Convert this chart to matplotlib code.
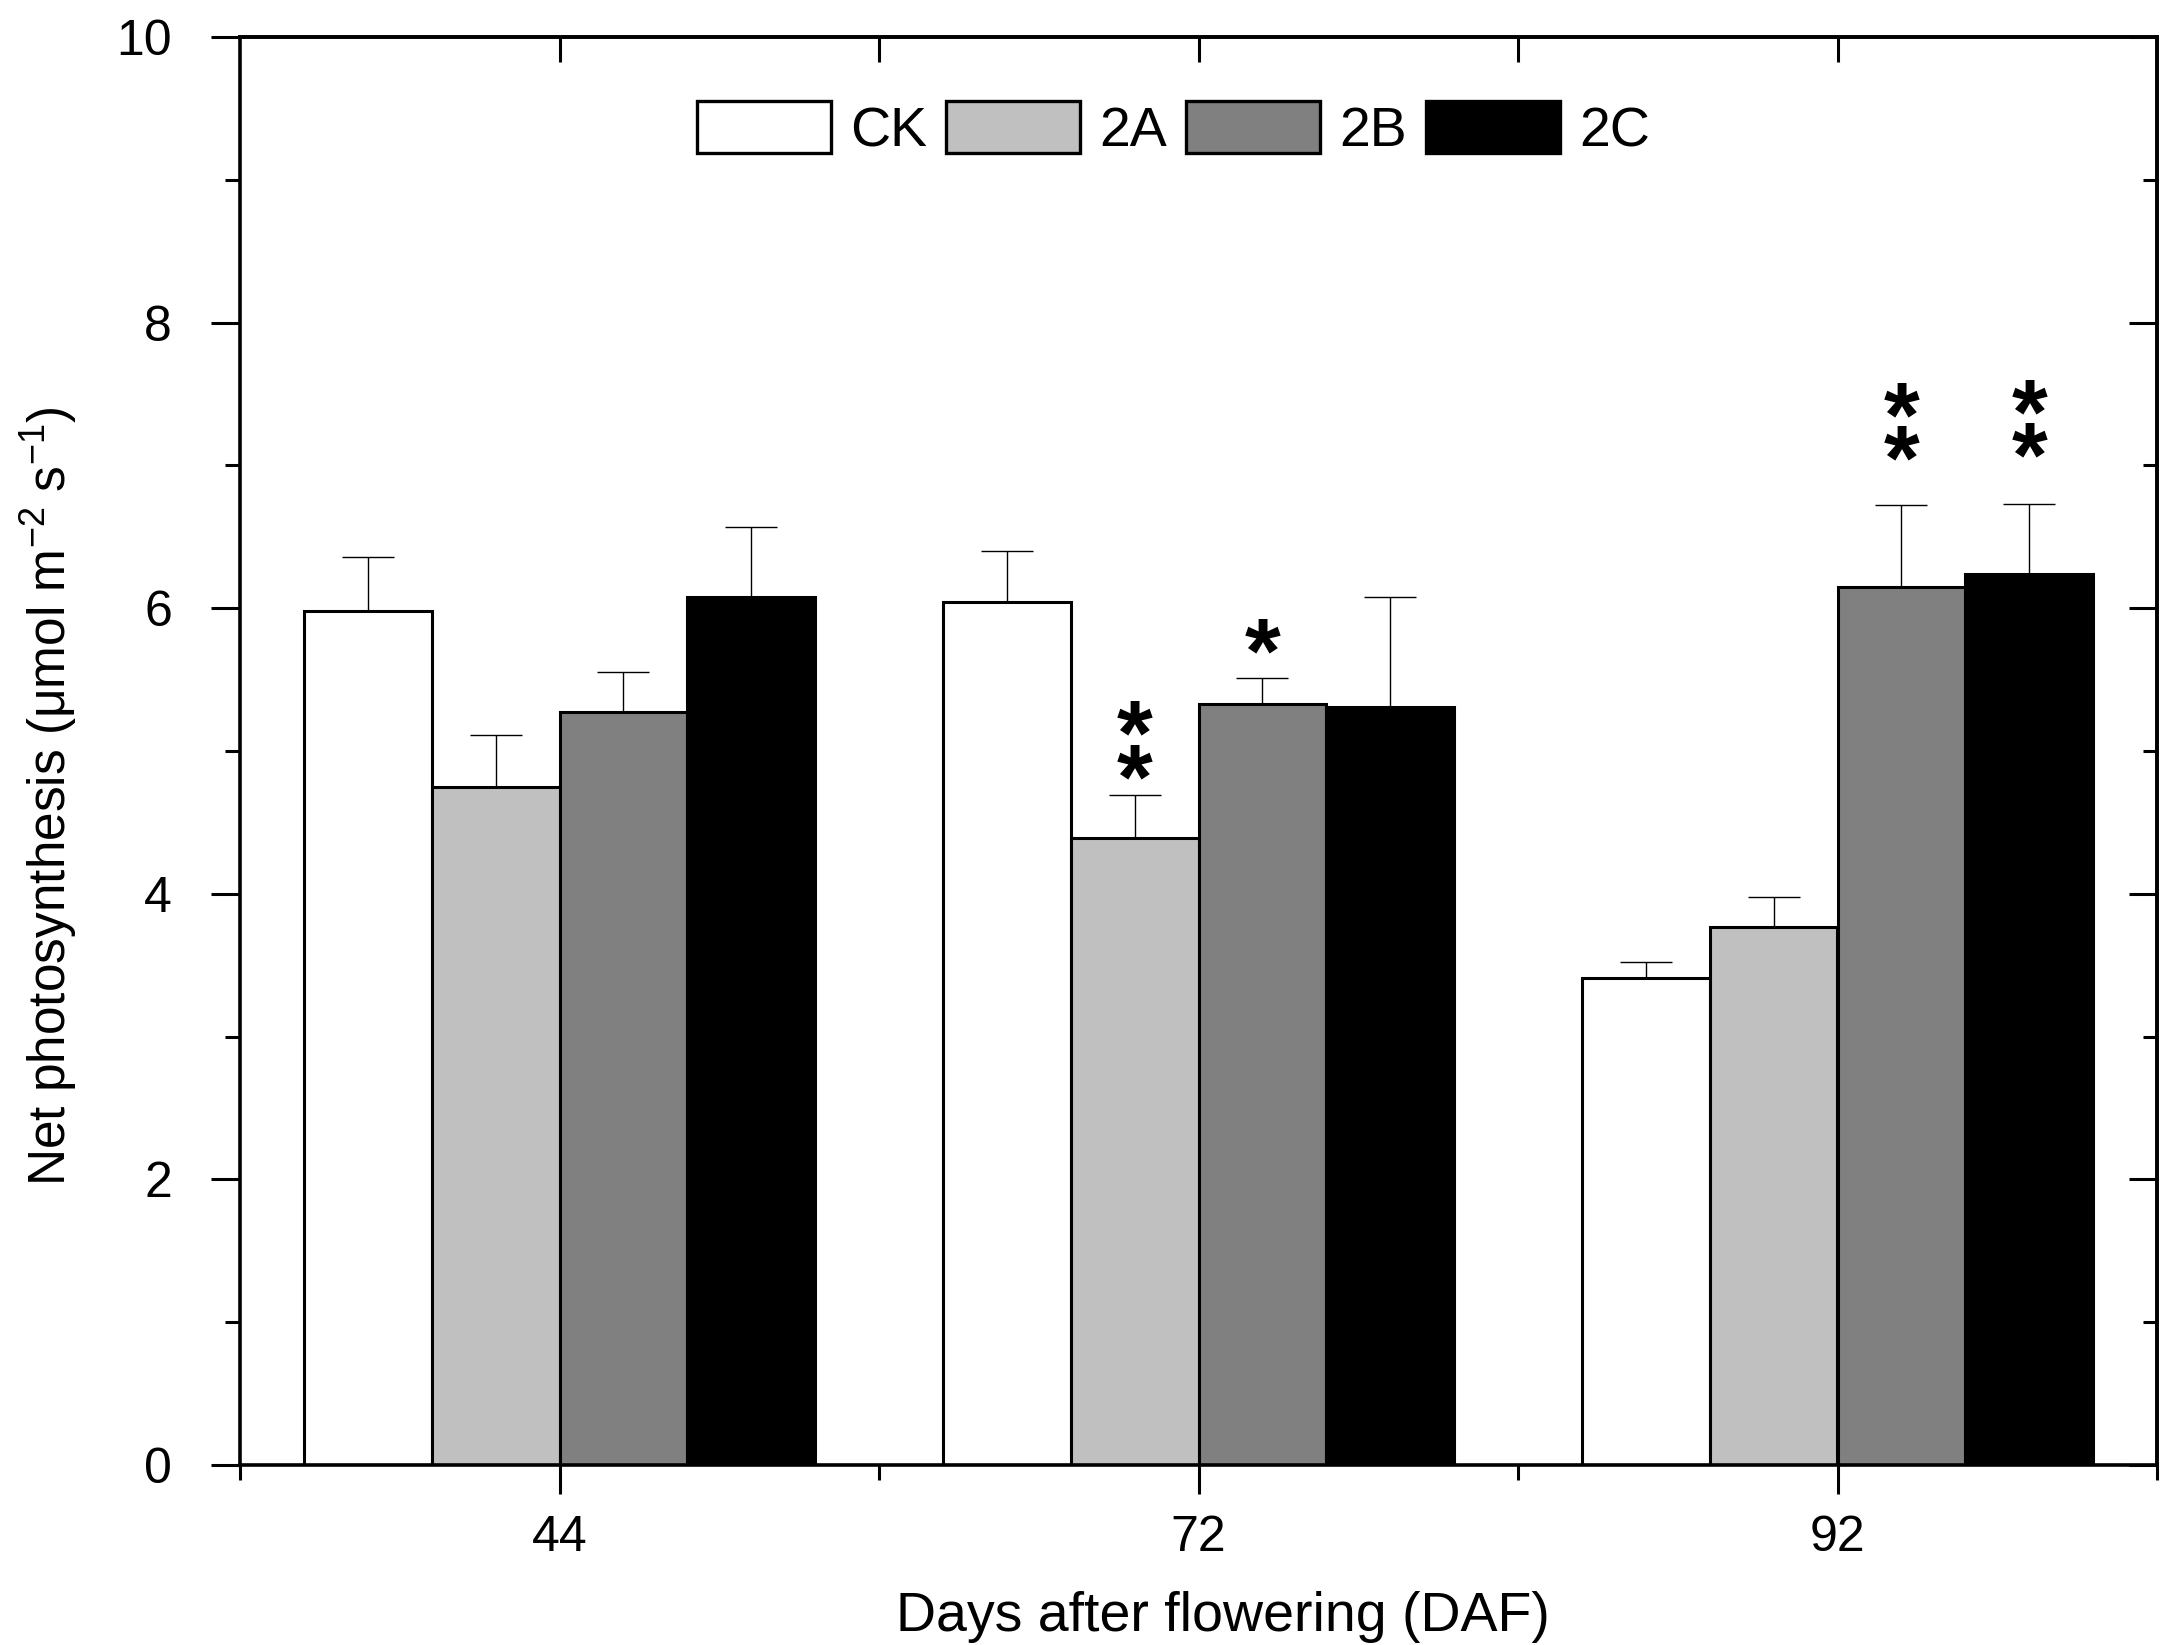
import matplotlib
matplotlib.use("Agg")
import matplotlib.pyplot as plt
import numpy as np

plt.rcParams["font.family"] = ["Liberation Sans", "DejaVu Sans"]
plt.rcParams["mathtext.fontset"] = "custom"
plt.rcParams["mathtext.rm"] = "Liberation Sans"
plt.rcParams["mathtext.it"] = "Liberation Sans:italic"
plt.rcParams["mathtext.bf"] = "Liberation Sans:bold"

DAYS = ["44", "72", "92"]
SERIES = ["CK", "2A", "2B", "2C"]
COLORS = ["white", "#c0c0c0", "#808080", "black"]

CK_MEAN = [5.98, 6.04, 3.41]
A_MEAN = [4.75, 4.39, 3.77]
B_MEAN = [5.27, 5.33, 6.15]
C_MEAN = [6.08, 5.31, 6.24]

CK_ERR = [0.38, 0.36, 0.11]
A_ERR = [0.36, 0.30, 0.21]
B_ERR = [0.28, 0.18, 0.57]
C_ERR = [0.49, 0.77, 0.49]

# significance marks: day index, series index, label, centre height
STAR_DAY = [1, 1, 2, 2]
STAR_SER = [1, 2, 2, 3]
STAR_TXT = ["*\n*", "*", "*\n*", "*\n*"]
STAR_Y = [5.10, 5.83, 7.33, 7.35]


def main():
    means = [CK_MEAN, A_MEAN, B_MEAN, C_MEAN]
    errs = [CK_ERR, A_ERR, B_ERR, C_ERR]

    fig = plt.figure(figsize=(21.71, 16.45), dpi=100)
    ax = fig.add_axes([240 / 2171, 1 - 1465 / 1645,
                       1917 / 2171, 1428 / 1645])

    x = np.arange(len(DAYS))
    w = 0.2
    offs = (np.arange(len(SERIES)) - 1.5) * w
    for i, name in enumerate(SERIES):
        ax.bar(x + offs[i], means[i], w, color=COLORS[i], edgecolor="black",
               linewidth=2.2, label=name, zorder=2)
        ax.errorbar(x + offs[i], means[i],
                    yerr=[np.zeros(len(DAYS)), errs[i]], fmt="none",
                    ecolor="black", elinewidth=1.0, capsize=19,
                    capthick=1.0, zorder=1)

    for d, s, t, yy in zip(STAR_DAY, STAR_SER, STAR_TXT, STAR_Y):
        ax.text(x[d] + offs[s], yy - 0.18, t, ha="center", va="center",
                fontsize=66, fontweight="bold", linespacing=0.36)

    ax.set_xlim(-0.5, 2.5)
    ax.set_ylim(0, 10)
    ax.set_xticks(x)
    ax.set_xticklabels(DAYS)
    ax.set_xticks([-0.5, 0.5, 1.5, 2.5], minor=True)
    ax.set_yticks(np.arange(0, 11, 2))
    ax.set_yticks(np.arange(1, 10, 2), minor=True)

    for sp in ax.spines.values():
        sp.set_linewidth(2.6)
    ax.tick_params(which="major", length=21, width=2.2, labelsize=36)
    ax.tick_params(which="minor", length=11, width=2.2)
    ax.tick_params(axis="y", which="major", pad=28)
    ax.tick_params(axis="x", which="major", pad=15)

    top = ax.secondary_xaxis("top")
    top.set_xticks(x)
    top.set_xticks([0.5, 1.5], minor=True)
    top.tick_params(which="both", direction="in", length=18, width=2.2,
                    labeltop=False)
    top.spines["top"].set_linewidth(2.6)
    right = ax.secondary_yaxis("right")
    right.set_yticks(np.arange(0, 11, 2))
    right.set_yticks(np.arange(1, 10, 2), minor=True)
    right.tick_params(which="major", direction="in", length=20, width=2.2,
                      labelright=False)
    right.tick_params(which="minor", direction="in", length=10, width=2.2)
    right.spines["right"].set_linewidth(2.6)

    ax.set_xlabel("Days after flowering (DAF)", fontsize=40)
    ax.xaxis.set_label_coords(0.513, -0.088)
    ax.set_ylabel("Net photosynthesis (μmol m$^{-2}$ s$^{-1}$)", fontsize=37)
    ax.yaxis.set_label_coords(-0.084, 0.468)

    leg = ax.legend(loc="center", bbox_to_anchor=(0.487, 0.935), ncol=4,
                    frameon=False, fontsize=40, handlelength=2.4,
                    handleheight=1.05, handletextpad=0.35,
                    columnspacing=0.35)
    for p in leg.get_patches():
        p.set_linewidth(2.4)

    fig.savefig("out.png", dpi=100)


if __name__ == "__main__":
    main()
